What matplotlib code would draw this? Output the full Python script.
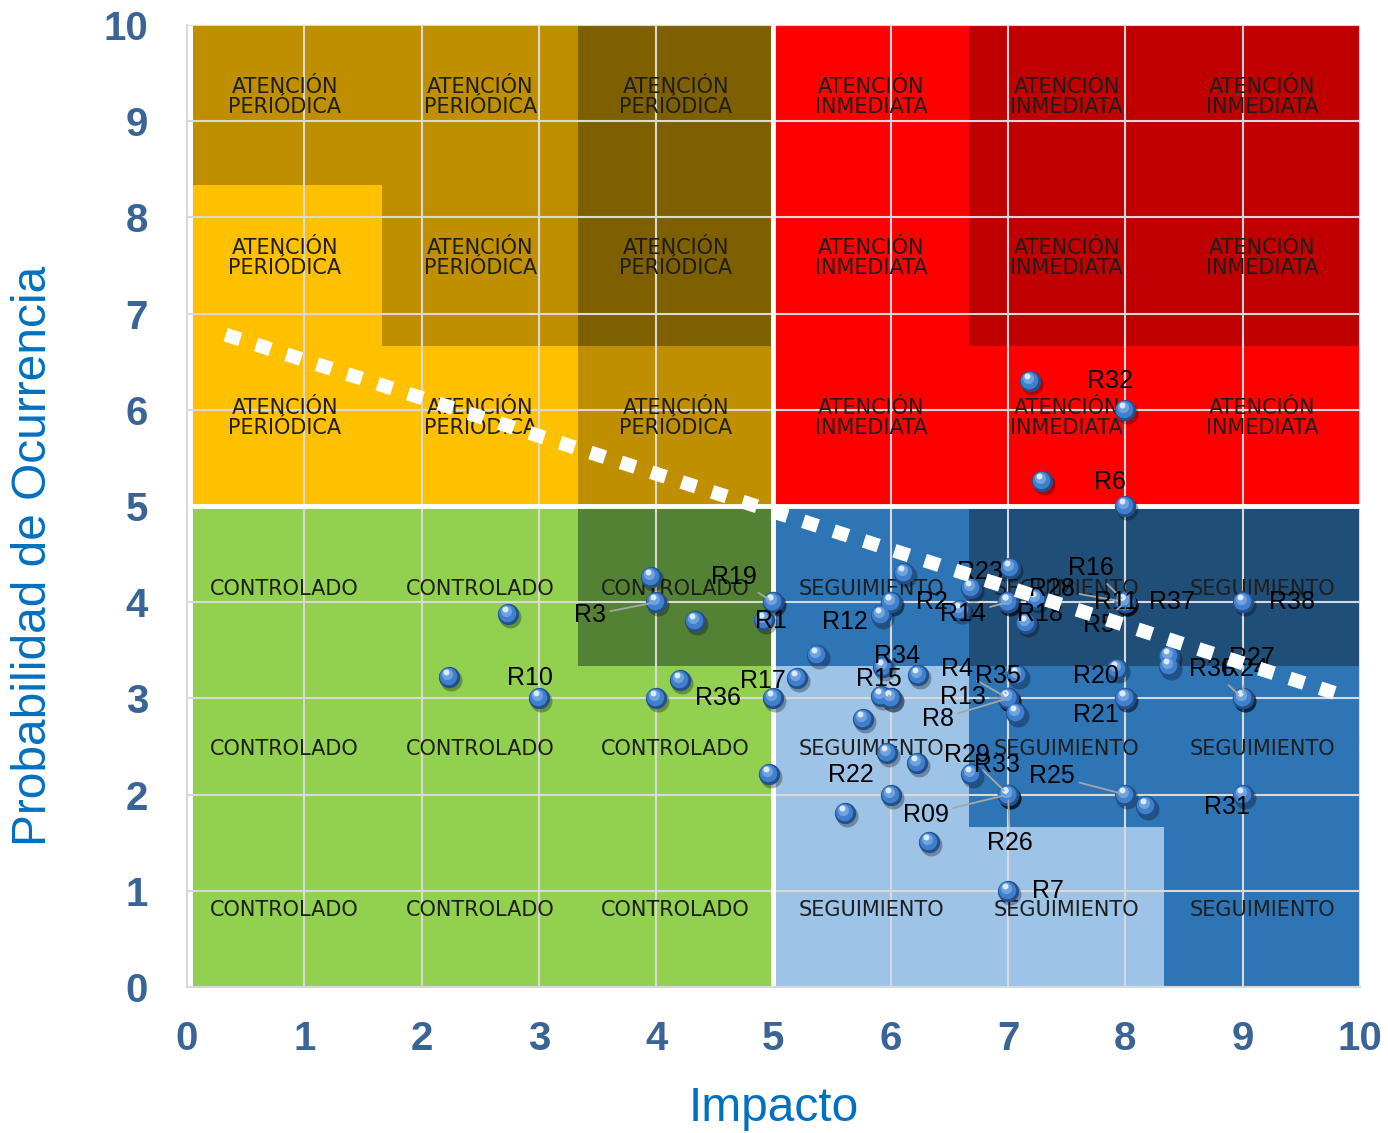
import matplotlib
matplotlib.use("Agg")
import matplotlib.pyplot as plt
from matplotlib.patches import Rectangle
from matplotlib.transforms import offset_copy

# labelled risks (impact, probability)
risk_names = ['R32', 'R6', 'R10', 'R3', 'R19', 'R1', 'R36', 'R17', 'R12', 'R2',
              'R14', 'R23', 'R16', 'R28', 'R18', 'R11', 'R5', 'R37', 'R38', 'R20',
              'R21', 'R30', 'R27', 'R24', 'R31', 'R34', 'R15', 'R4', 'R35', 'R13',
              'R8', 'R22', 'R29', 'R33', 'R25', 'R09', 'R26', 'R7']
risk_impact = [8, 8, 3, 4, 5, 5, 4, 5, 6, 6,
               7, 7, 8, 8, 7, 8, 8, 8, 9, 8,
               8, 9, 9, 9, 9, 6, 6, 7, 7, 7,
               7, 6, 7, 7, 8, 7, 7, 7]
risk_prob = [6, 5, 3, 4, 4, 4, 3, 3, 4, 4,
             4, 4, 4, 4, 4, 4, 4, 4, 4, 3,
             3, 3, 3, 3, 2, 3, 3, 3, 3, 3,
             3, 2, 2, 2, 2, 2, 2, 1]

# points without a data label
extra_impact = [7.19, 7.29, 2.23, 2.74, 3.96, 4.33, 4.20, 4.96, 4.92, 5.20,
                5.37, 5.76, 5.92, 6.11, 5.93, 5.92, 6.23, 6.59, 6.68, 7.02,
                7.24, 7.15, 7.08, 7.07, 8.37, 8.37, 7.93, 8.18, 5.97, 6.22,
                6.68, 5.61, 6.33]
extra_prob = [6.30, 5.26, 3.22, 3.88, 4.26, 3.80, 3.19, 2.21, 3.81, 3.21,
              3.45, 2.79, 3.87, 4.30, 3.33, 3.02, 3.24, 3.92, 4.15, 4.36,
              4.03, 3.78, 3.24, 2.85, 3.44, 3.34, 3.31, 1.88, 2.43, 2.33,
              2.21, 1.81, 1.51]

# tolerance line
limit_x = [0.33, 9.8]
limit_y = [6.78, 3.05]

ticks = list(range(11))

# label placement (pixels right / down from the point) and leader flag
label_pos = {
    'R32': (-15, -29, 0), 'R6': (-15, -24, 0), 'R10': (-9, -20, 0),
    'R3': (-66, 13, 1), 'R19': (-40, -25, 1), 'R1': (-3, 19, 0),
    'R36': (62, 0, 0), 'R17': (-11, -17, 0), 'R12': (-46, 20, 0),
    'R2': (41, 0, 0), 'R14': (-45, 12, 1), 'R23': (-28, -30, 0),
    'R16': (-34, -34, 1), 'R28': (-73, -13, 1), 'R18': (32, 12, 0),
    'R11': (-9, 0, 0), 'R5': (-26, 23, 1), 'R37': (47, 0, 0),
    'R38': (49, 0, 0), 'R20': (-29, -22, 0), 'R21': (-29, 17, 0),
    'R30': (-31, -29, 1), 'R27': (9, -40, 0), 'R24': (2, -29, 1),
    'R31': (-16, 12, 0), 'R34': (6, -42, 0), 'R15': (-12, -19, 1),
    'R4': (-51, -29, 1), 'R35': (-10, -22, 1), 'R13': (-45, -1, 1),
    'R8': (-70, 21, 1), 'R22': (-40, -20, 0), 'R29': (-41, -40, 1),
    'R33': (-11, -30, 0), 'R25': (-73, -19, 1), 'R09': (-82, 20, 1),
    'R26': (2, 48, 1), 'R7': (40, 0, 0),
}

# quadrant colour cells, rows listed bottom to top
quadrants = [
    (0, 5, 'ATENCIÓN\nPERIÓDICA', [['#FFC000', '#FFC000', '#BF8F00'],
                                   ['#FFC000', '#BF8F00', '#7F6000'],
                                   ['#BF8F00', '#BF8F00', '#7F6000']]),
    (5, 5, 'ATENCIÓN\nINMEDIATA', [['#FF0000', '#FF0000', '#FF0000'],
                                   ['#FF0000', '#C00000', '#C00000'],
                                   ['#FF0000', '#C00000', '#C00000']]),
    (0, 0, 'CONTROLADO', [['#92D050', '#92D050', '#92D050'],
                          ['#92D050', '#92D050', '#92D050'],
                          ['#92D050', '#92D050', '#548235']]),
    (5, 0, 'SEGUIMIENTO', [['#9DC3E6', '#9DC3E6', '#2E75B6'],
                           ['#9DC3E6', '#2E75B6', '#2E75B6'],
                           ['#2E75B6', '#1F4E79', '#1F4E79']]),
]

fig = plt.figure(figsize=(13.88, 11.33), dpi=100)
ax = fig.add_axes([0.1347, 0.1289, 0.8451, 0.8491])
ax.set_xlim(0, 10)
ax.set_ylim(0, 10)

cell = 5 / 3
for qx, qy, text, colours in quadrants:
    two_lines = '\n' in text
    for r in range(3):
        for c in range(3):
            x0 = qx + c * cell
            w = cell
            if x0 == 0:
                x0, w = 0.05, cell - 0.05
            ax.add_patch(Rectangle((x0, qy + r * cell), w, cell,
                                   facecolor=colours[r][c], edgecolor='none', zorder=0))
            ty = qy + (r + 0.5) * cell + (0.08 if two_lines else -0.03)
            ax.text(qx + (c + 0.5) * cell, ty, text,
                    ha='center', va='center', fontsize=15, color='#1E1E1E',
                    linespacing=1.0, family='DejaVu Sans', zorder=3)

# grid over the coloured cells, white gaps between quadrants
for v in ticks[1:]:
    ax.axvline(v, color='#D9D9D9', lw=1.5, zorder=2)
    ax.axhline(v, color='#D9D9D9', lw=1.5, zorder=2)
ax.axvline(5, color='white', lw=3.5, zorder=2.1)
ax.axhline(5, color='white', lw=3.5, zorder=2.1)


def spheres(xs, ys):
    def shifted(dx, dy):
        return offset_copy(ax.transData, fig=fig, x=dx, y=dy, units='dots')
    ax.scatter(xs, ys, s=250, color='black', alpha=0.3, lw=0,
               transform=shifted(2, -3), zorder=4)
    ax.scatter(xs, ys, s=235, color='#22508C', lw=0, zorder=4.1)
    ax.scatter(xs, ys, s=160, color='#3F7FCC', lw=0,
               transform=shifted(-1, 1), zorder=4.2)
    ax.scatter(xs, ys, s=65, color='#6FA3E0', lw=0,
               transform=shifted(-2, 3), zorder=4.3)
    ax.scatter(xs, ys, s=18, color='#DCEBFB', lw=0,
               transform=shifted(-3, 5), zorder=4.4)


spheres(extra_impact, extra_prob)
spheres(risk_impact, risk_prob)

for name, x, y in zip(risk_names, risk_impact, risk_prob):
    dx, dy, leader = label_pos[name]
    props = None
    if leader:
        props = dict(arrowstyle='-', color='#A6A6A6', lw=1.3, shrinkA=1, shrinkB=4)
    ax.annotate(name, (x, y), xytext=(dx, -dy), textcoords='offset pixels',
                ha='center', va='center', fontsize=18, family='Liberation Sans',
                color='black', arrowprops=props, zorder=5)

ax.plot(limit_x, limit_y, color='white', lw=10, solid_capstyle='butt',
        dash_capstyle='butt', linestyle=(0, (1.1, 1.2)), zorder=6)

ax.set_xticks(ticks)
ax.set_yticks(ticks)
ax.tick_params(axis='both', length=0, labelsize=29, labelcolor='#3A6496')
ax.tick_params(axis='x', pad=24)
ax.tick_params(axis='y', pad=28)
for lab in ax.get_xticklabels() + ax.get_yticklabels():
    lab.set_fontweight('bold')
    lab.set_family('Liberation Sans')

for side in ('top', 'right'):
    ax.spines[side].set_visible(False)
for side in ('left', 'bottom'):
    ax.spines[side].set_color('#D9D9D9')
    ax.spines[side].set_linewidth(1.5)

ax.text(0.5, -0.126, 'Impacto', transform=ax.transAxes, ha='center', va='center',
        fontsize=34.5, color='#0070C0', family='Liberation Sans')
ax.text(-0.131, 0.448, 'Probabilidad de Ocurrencia', transform=ax.transAxes,
        rotation=90, ha='center', va='center', fontsize=34.5, color='#0070C0',
        family='Liberation Sans')

fig.savefig('out.png', dpi=100)
